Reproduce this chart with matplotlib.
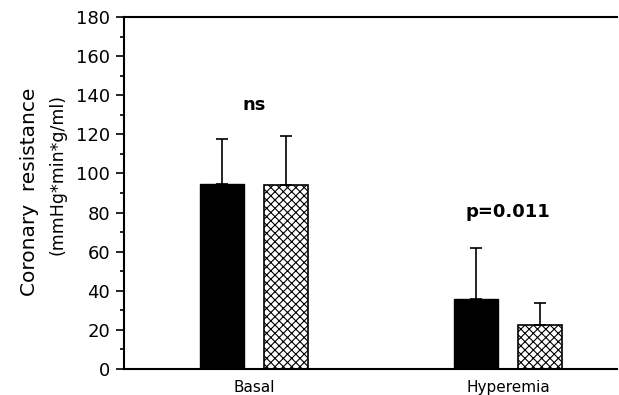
import numpy as np
import matplotlib.pyplot as plt
from matplotlib.ticker import MultipleLocator

plt.rcParams['font.family'] = ['DejaVu Sans']
plt.rcParams['hatch.linewidth'] = 0.8

groups = ['Basal', 'Hyperemia']
solid_vals = [94.5, 36]
solid_err = [23, 26]
hatched_vals = [94, 22.5]
hatched_err = [25, 11]
annotations = ['ns', 'p=0.011']
annot_y = [135, 80.5]

fig = plt.figure(figsize=(6.19, 3.95), dpi=100)
ax = fig.add_axes([0.2003, 0.0658, 0.797, 0.8912])

x = np.arange(len(groups))
off = 0.126
w = 0.173

ax.bar(x - off, solid_vals, w, color='black', edgecolor='black', linewidth=1)
ax.bar(x + off, hatched_vals, w, color='white', edgecolor='black', hatch='xxxx', linewidth=1.2)
ax.errorbar(x - off, solid_vals, yerr=[np.zeros(2), solid_err], fmt='none',
            ecolor='black', elinewidth=1.2, capsize=4, capthick=1.2)
ax.errorbar(x + off, hatched_vals, yerr=[np.zeros(2), hatched_err], fmt='none',
            ecolor='black', elinewidth=1.2, capsize=4, capthick=1.2)

for xi, txt, yi in zip(x, annotations, annot_y):
    ax.text(xi, yi, txt, ha='center', va='center', fontsize=13, fontweight='bold')

ax.set_xlim(-0.512, 1.429)
ax.set_ylim(0, 180)
ax.yaxis.set_major_locator(MultipleLocator(20))
ax.yaxis.set_minor_locator(MultipleLocator(10))
ax.tick_params(axis='y', direction='out', length=6, width=1.2, labelsize=13, pad=4)
ax.tick_params(axis='y', which='minor', direction='out', length=3, width=1.2)
ax.set_xticks(x)
ax.set_xticklabels(groups, fontsize=11)
ax.tick_params(axis='x', length=0, pad=8)

ax.spines['right'].set_visible(False)
for s in ['left', 'top', 'bottom']:
    ax.spines[s].set_linewidth(1.5)

# two-line y label, first line larger than second
fig.text(0.048, 0.515, 'Coronary  resistance', rotation=90, ha='center', va='center', fontsize=14.5)
fig.text(0.093, 0.557, '(mmHg*min*g/ml)', rotation=90, ha='center', va='center', fontsize=12.5)

fig.savefig('out.png', dpi=100)
